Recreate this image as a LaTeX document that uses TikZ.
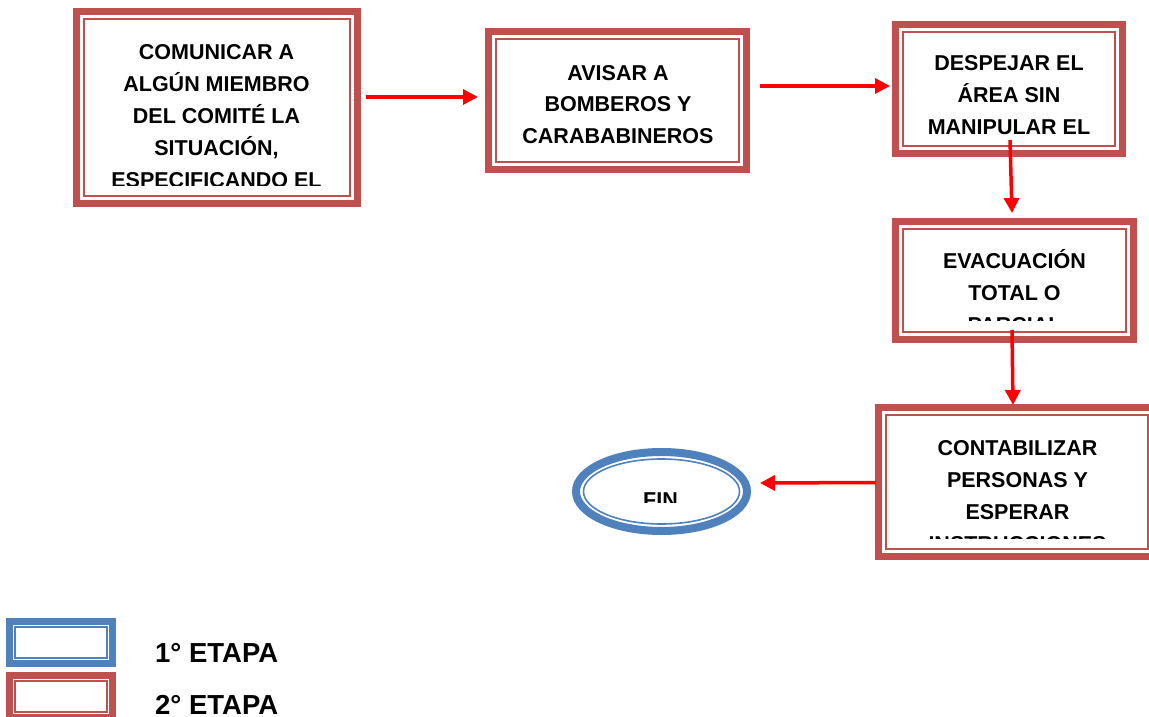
\documentclass[tikz,border=0pt]{standalone}
\usepackage{fontspec}
\setmainfont{Liberation Sans}
\usetikzlibrary{arrows.meta,calc,shapes.geometric}
\definecolor{bred}{HTML}{C0504D}
\definecolor{bblue}{HTML}{4F81BD}
\tikzset{
  stage/.style={draw=#1, line width=7pt, rectangle, inner sep=0pt, outer sep=0pt, fill=white},
  stage/.default=bred,
  thinline/.style={draw=#1, line width=2pt},
  thinline/.default=bred,
  txt/.style={font=\bfseries\fontsize{21.5}{32}\selectfont, align=center, anchor=base, inner sep=0pt},
  legtxt/.style={font=\bfseries\fontsize{27.5}{30}\selectfont, anchor=base west, inner sep=0pt},
  arr/.style={draw=red, line width=3.5pt, -{Triangle[length=15pt,width=15pt]}},
}
\begin{document}
\begin{tikzpicture}[x=1pt,y=-1pt]
\useasboundingbox[fill=white] (0,0) rectangle (1149,717);
\clip (0,0) rectangle (1149,717);
% boxes
\node[stage, minimum width=281, minimum height=192] (b1) at (216.5,107.5) {};
\draw[thinline] ($(b1.north west)+(7.5,8)$) rectangle ($(b1.south east)+(-7.5,-8)$);
\node[stage, minimum width=258, minimum height=138] (b2) at (617.5,100.5) {};
\draw[thinline] ($(b2.north west)+(7.5,7.5)$) rectangle ($(b2.south east)+(-7.5,-7.5)$);
\node[stage, minimum width=227, minimum height=129] (b3) at (1009,89) {};
\draw[thinline] ($(b3.north west)+(7.5,7.5)$) rectangle ($(b3.south east)+(-7.5,-7.5)$);
\node[stage, minimum width=238, minimum height=118] (b4) at (1014.5,280.5) {};
\draw[thinline] ($(b4.north west)+(7.5,7.5)$) rectangle ($(b4.south east)+(-7.5,-7.5)$);
\node[stage, minimum width=277, minimum height=149] (b5) at (1017,482) {};
\draw[thinline] ($(b5.north west)+(7.5,7.5)$) rectangle ($(b5.south east)+(-7.5,-7.5)$);
\node[ellipse, draw=bblue, line width=8pt, fill=white, inner sep=0pt, outer sep=0pt, minimum width=171, minimum height=79] (fin) at (661.5,491.5) {};
\draw[draw=bblue, line width=1.6pt] (fin.center) ellipse [x radius=78, y radius=32.5];
% texts (anchor base = baseline of the last line)
\begin{scope}
\clip (73,8) rectangle (360,185);
\node[txt] (t1) at (216.5,187) {COMUNICAR A\\ALGÚN MIEMBRO\\DEL COMITÉ LA\\SITUACIÓN,\\ESPECIFICANDO EL};
\end{scope}
\node[txt, font=\bfseries\fontsize{21.5}{31.5}\selectfont] (t2) at (618,143) {AVISAR A\\BOMBEROS Y\\CARABABINEROS};
\node[txt] (t3) at (1009,134) {DESPEJAR EL\\ÁREA SIN\\MANIPULAR EL};
\begin{scope}
\clip (892,218) rectangle (1137,320);
\node[txt] (t4) at (1014.5,332) {EVACUACIÓN\\TOTAL O\\PARCIAL};
\end{scope}
\begin{scope}
\clip (875,404) rectangle (1149,538);
\node[txt] (t5) at (1017.5,551) {CONTABILIZAR\\PERSONAS Y\\ESPERAR\\INSTRUCCIONES};
\end{scope}
\begin{scope}
\clip (580,450) rectangle (745,502);
\node[txt] (tf) at (660.5,507) {FIN};
\end{scope}
% arrows
\draw[arr] ($(b1.east)+(9,-10.5)$) -- ($(b2.west)+(-10.5,-3.5)$);
\draw[arr] ($(b2.east)+(13.5,-14.5)$) -- ($(b3.west)+(-5.5,-3)$);
\draw[arr] ($(b3.south)+(1,-13.5)$) -- ($(b4.north)+(-2.5,-8.5)$);
\draw[arr] ($(b4.south)+(-2.5,-9.5)$) -- ($(b5.north)+(-4,-2.5)$);
\draw[arr] ($(b5.west)+(-2.5,0.5)$) -- ($(fin.east)+(13,-8.5)$);
% legend
\node[stage=bblue, minimum width=103, minimum height=42] (l1) at (61,642.5) {};
\draw[thinline=bblue, line width=1.6pt] ($(l1.north west)+(5.5,5.5)$) rectangle ($(l1.south east)+(-5.5,-5.5)$);
\node[stage, minimum width=103, minimum height=42] (l2) at (61,696.5) {};
\draw[thinline, line width=1.6pt] ($(l2.north west)+(5.5,5.5)$) rectangle ($(l2.south east)+(-5.5,-5.5)$);
\node[legtxt] (lt1) at (155,662) {1° ETAPA};
\node[legtxt] (lt2) at (155,714) {2° ETAPA};
\end{tikzpicture}
\end{document}
